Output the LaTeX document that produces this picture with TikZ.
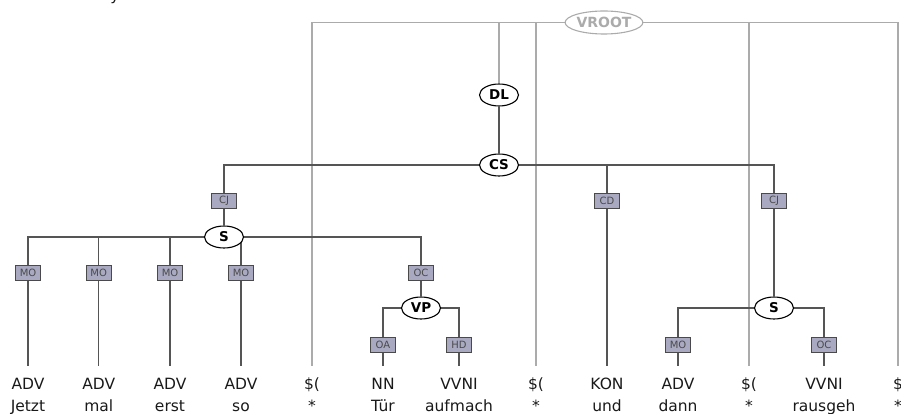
\documentclass[tikz,border=0pt]{standalone}
\usepackage{fontspec}
\setmainfont{DejaVu Sans}
\usetikzlibrary{shapes.geometric,backgrounds}
\definecolor{lblfill}{HTML}{A9A9C2}
\definecolor{lbldraw}{HTML}{4A4A4A}
\definecolor{treeline}{HTML}{555555}
\definecolor{rootline}{HTML}{ABABAB}
\begin{document}
\begin{tikzpicture}[x=1pt,y=-1pt,
 cat/.style={ellipse,draw=black,line width=1.1pt,fill=white,minimum width=39pt,minimum height=22pt,inner sep=0pt,font=\fontsize{13.5}{13.5}\selectfont\bfseries},
 rootcat/.style={cat,draw=rootline,text=rootline,minimum width=66pt,minimum height=23pt,font=\fontsize{14}{14}\selectfont\bfseries},
 edgelbl/.style={rectangle,draw=lbldraw,fill=lblfill,line width=0.9pt,minimum width=24.5pt,minimum height=15pt,inner sep=0pt,font=\fontsize{10}{10}\selectfont,text=lbldraw},
 tl/.style={draw=treeline,line width=1.2pt},
 rl/.style={draw=rootline,line width=1.4pt},
 leaftext/.style={anchor=base,font=\fontsize{15.5}{15.5}\selectfont,text=black!90},
]
\useasboundingbox (0,0) rectangle (901,414);
\node[leaftext] (frag) at (115,0.5) {y};
% phrase nodes
\node[rootcat] (vroot) at (604,22.5) {VROOT};
\node[cat] (dl) at (499,95) {DL};
\node[cat] (cs) at (499,165) {CS};
\node[edgelbl] (cjL) at (224,201) {CJ};
\node[edgelbl] (cd) at (607,200.5) {CD};
\node[edgelbl] (cjR) at (774,200.5) {CJ};
\node[cat] (sL) at (224,237) {S};
\node[edgelbl] (mo1) at (28,272.5) {MO};
\node[edgelbl] (mo2) at (98.7,272.5) {MO};
\node[edgelbl] (mo3) at (170,272.5) {MO};
\node[edgelbl] (mo4) at (241,272.5) {MO};
\node[edgelbl] (oc1) at (421,272.5) {OC};
\node[cat] (vp) at (421,308) {VP};
\node[edgelbl] (oa) at (383,344.5) {OA};
\node[edgelbl] (hd) at (459,344.5) {HD};
\node[cat] (sR) at (774,308) {S};
\node[edgelbl] (moR) at (678,344.5) {MO};
\node[edgelbl] (ocR) at (824,344.5) {OC};
% leaf tops
\foreach \i/\x in {1/28,2/98.7,3/170,4/241,5/312,6/383,7/459,8/536,9/607,10/678,11/749,12/824,13/898}
  \coordinate (t\i) at (\x,366);
% leaf texts
\foreach \i/\x/\p/\w in {1/28/ADV/Jetzt,2/98.7/ADV/mal,3/170/ADV/erst,4/241/ADV/so,5/312/\$(/*,6/383/NN/Tür,7/459/VVNI/aufmach,8/536/\$(/*,9/607/KON/und,10/678/ADV/dann,11/749/\$(/*,12/824/VVNI/rausgeh,13/898/\$/*}{
  \node[leaftext] (p\i) at (\x,389) {\p};
  \node[leaftext] (w\i) at (\x,411.5) {\w};
}
\begin{scope}[on background layer]
  % virtual root edges
  \draw[rl] (vroot.center) -| (t5);
  \draw[rl] (vroot.center) -| (dl);
  \draw[rl] (vroot.center) -| (t8);
  \draw[rl] (vroot.center) -| (t11);
  \draw[rl] (vroot.center) -| (t13);
  % tree edges
  \draw[tl] (dl) -- (cs);
  \draw[tl] (cs.center) -| (cjL);
  \draw[tl] (cs.center) -| (cd);
  \draw[tl] (cs.center) -| (cjR);
  \draw[tl] (cjL) -- (sL);
  \draw[tl] (cd) -- (t9);
  \draw[tl] (cjR) -- (sR);
  \foreach \m in {mo1,mo2,mo3,mo4,oc1} \draw[tl] (sL.center) -| (\m);
  \draw[tl] (mo1) -- (t1);
  \draw[tl] (mo2) -- (t2);
  \draw[tl] (mo3) -- (t3);
  \draw[tl] (mo4) -- (t4);
  \draw[tl] (oc1) -- (vp);
  \draw[tl] (vp.center) -| (oa);
  \draw[tl] (vp.center) -| (hd);
  \draw[tl] (oa) -- (t6);
  \draw[tl] (hd) -- (t7);
  \draw[tl] (sR.center) -| (moR);
  \draw[tl] (sR.center) -| (ocR);
  \draw[tl] (moR) -- (t10);
  \draw[tl] (ocR) -- (t12);
\end{scope}
\end{tikzpicture}
\end{document}
